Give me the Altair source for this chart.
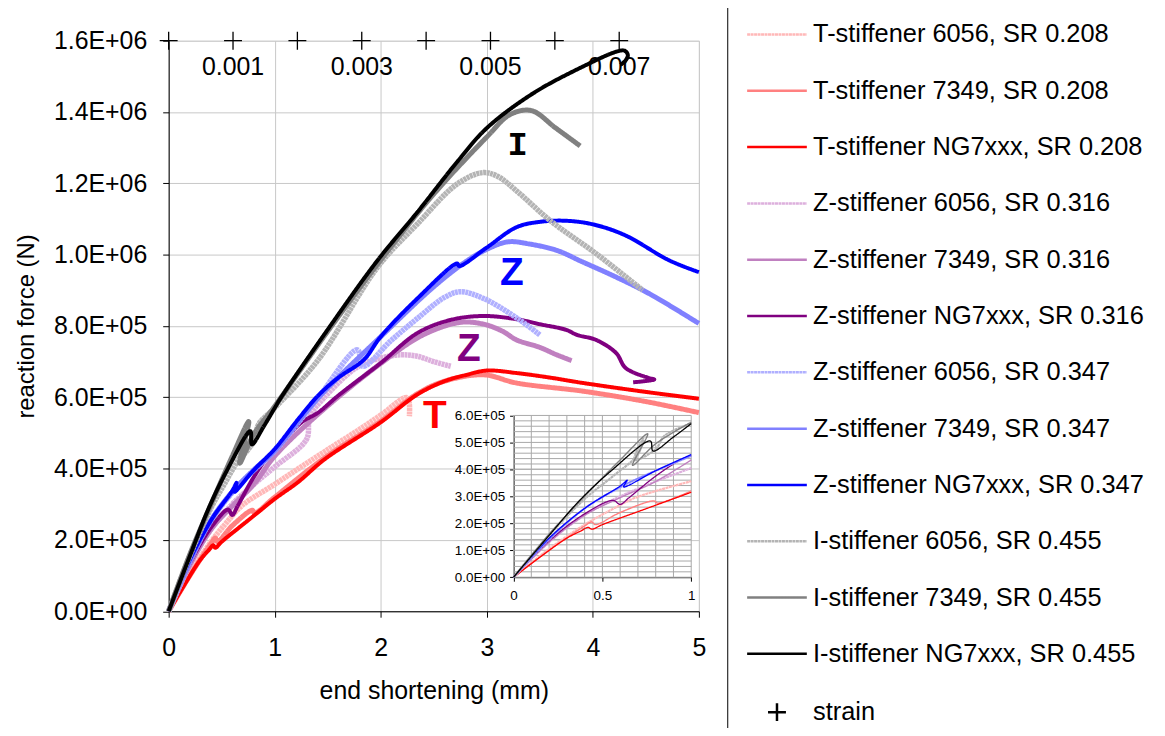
import altair as alt
import pandas as pd

# ---------------- series definitions ----------------
SERIES = [
    "T-stiffener 6056, SR 0.208", "T-stiffener 7349, SR 0.208", "T-stiffener NG7xxx, SR 0.208",
    "Z-stiffener 6056, SR 0.316", "Z-stiffener 7349, SR 0.316", "Z-stiffener NG7xxx, SR 0.316",
    "Z-stiffener 6056, SR 0.347", "Z-stiffener 7349, SR 0.347", "Z-stiffener NG7xxx, SR 0.347",
    "I-stiffener 6056, SR 0.455", "I-stiffener 7349, SR 0.455", "I-stiffener NG7xxx, SR 0.455",
    "strain",
]
COLORS = ["#FFB8B8", "#FF8080", "#FF0000",
          "#DDB0DD", "#C080C0", "#800080",
          "#B0B0FF", "#8080FF", "#0000FF",
          "#B4B4B4", "#808080", "#000000",
          "#000000"]
DOT = [3, 0.5]
SOLID = [1, 0]
DASHES = [DOT, SOLID, SOLID, DOT, SOLID, SOLID, DOT, SOLID, SOLID, DOT, SOLID, SOLID, SOLID]
LINE_SYM = "M-5,0L5,0"
PLUS_SYM = "M-1.5,0L1.5,0M0,-1.5L0,1.5"
SHAPES = [LINE_SYM] * 12 + [PLUS_SYM]

# ---------------- data: end shortening (mm) / reaction force (x 1E+05 N) ----------------
t6056_x = [0, 0.2, 0.4, 0.55, 0.69, 1.0, 1.25, 1.53, 1.8, 2.0, 2.25, 2.27]
t6056_y = [0, 1.05, 1.95, 2.5, 2.96, 3.56, 4.05, 4.59, 5.1, 5.5, 5.99, 5.47]

t7349_x = [0, 0.2, 0.4, 0.44, 0.46, 0.6, 0.79, 0.81, 1.0, 1.47, 2.0, 2.345, 2.6, 2.97, 3.28, 3.91, 4.5, 5.0]
t7349_y = [0, 1.0, 1.9, 2.05, 1.95, 2.4, 2.83, 2.75, 3.2, 4.3, 5.33, 6.1, 6.45, 6.63, 6.40, 6.17, 5.88, 5.57]

tng_x = [0, 0.15, 0.3, 0.38, 0.42, 0.44, 0.5, 0.75, 1.0, 1.22, 1.47, 2.0, 2.345, 2.6, 2.81, 3.0, 3.28, 3.6, 3.91, 4.5, 5.0]
tng_y = [0, 0.75, 1.45, 1.72, 1.85, 1.78, 1.95, 2.55, 3.15, 3.62, 4.26, 5.3, 6.08, 6.45, 6.63, 6.75, 6.68, 6.55, 6.40, 6.15, 5.96]

z316_6056_x = [0, 0.2, 0.4, 0.6, 0.8, 1.0, 1.3, 1.33, 1.47, 1.78, 2.0, 2.19, 2.345, 2.5, 2.66]
z316_6056_y = [0, 1.3, 2.3, 3.0, 3.55, 4.05, 4.82, 5.45, 6.0, 6.85, 7.1, 7.19, 7.15, 7.0, 6.87]

z316_7349_x = [0, 0.2, 0.4, 0.6, 0.8, 1.0, 1.4, 2.0, 2.4, 2.75, 2.97, 3.15, 3.28, 3.5, 3.66, 3.8]
z316_7349_y = [0, 1.3, 2.3, 2.95, 3.55, 4.35, 5.5, 6.95, 7.75, 8.1, 8.05, 7.85, 7.61, 7.4, 7.19, 7.03]

z316_ng_x = [0, 0.2, 0.4, 0.56, 0.6, 0.65, 0.8, 0.94, 1.0, 1.25, 1.41, 1.6, 2.0, 2.345, 2.66, 2.97,
             3.28, 3.5, 3.75, 3.85, 4.03, 4.22, 4.31, 4.53, 4.58, 4.38]
z316_ng_y = [0, 1.35, 2.35, 2.85, 2.7, 2.95, 3.75, 4.35, 4.5, 5.29, 5.57, 6.05, 6.96, 7.8, 8.17, 8.28,
             8.19, 8.05, 7.89, 7.75, 7.61, 7.24, 6.82, 6.54, 6.5, 6.42]

z347_6056_x = [0, 0.2, 0.4, 0.65, 0.8, 1.0, 1.4, 1.78, 1.83, 2.1, 2.345, 2.6, 2.75, 2.97, 3.29, 3.5]
z347_6056_y = [0, 1.4, 2.55, 3.5, 3.95, 4.5, 5.95, 7.33, 6.87, 7.6, 8.21, 8.8, 8.96, 8.77, 8.21, 7.75]

z347_7349_x = [0, 0.2, 0.4, 0.6, 0.8, 1.0, 1.4, 2.0, 2.5, 2.8, 3.0, 3.2, 3.4, 3.66, 3.9, 4.22, 4.53, 5.0]
z347_7349_y = [0, 1.4, 2.55, 3.35, 3.95, 4.5, 5.95, 7.7, 9.1, 9.8, 10.15, 10.36, 10.3, 10.12, 9.8, 9.37, 8.91, 8.07]

z347_ng_x = [0, 0.2, 0.41, 0.6, 0.64, 0.62, 0.8, 1.0, 1.22, 1.41, 1.6, 1.84, 2.0, 2.345, 2.72, 2.74,
             3.0, 3.28, 3.5, 3.75, 4.0, 4.3, 4.72, 5.0]
z347_ng_y = [0, 1.45, 2.6, 3.38, 3.6, 3.35, 3.95, 4.55, 5.38, 6.05, 6.55, 7.05, 7.7, 8.77, 9.75, 9.68,
             10.2, 10.77, 10.92, 10.95, 10.85, 10.55, 9.84, 9.51]

i6056_x = [0, 0.2, 0.4, 0.56, 0.7, 0.73, 0.68, 0.8, 0.85, 1.0, 1.41, 1.97, 2.345, 2.72, 2.96, 3.1, 3.28, 3.6, 4.03, 4.47]
i6056_y = [0, 1.55, 2.9, 3.75, 4.55, 5.15, 4.35, 4.75, 5.25, 5.7, 7.05, 9.65, 10.86, 11.98, 12.3, 12.2, 11.79, 10.95, 10.03, 9.0]

i7349_x = [0, 0.2, 0.4, 0.6, 0.755, 0.67, 0.8, 1.0, 1.5, 2.0, 2.5, 3.0, 3.22, 3.42, 3.65, 3.88]
i7349_y = [0, 1.6, 3.0, 4.35, 5.32, 4.15, 4.95, 5.75, 7.85, 9.85, 11.7, 13.3, 13.93, 14.04, 13.55, 13.05]

ing_x = [0, 0.2, 0.375, 0.55, 0.77, 0.785, 0.9, 1.0, 1.05, 1.5, 1.97, 2.345, 2.72, 3.0, 3.44, 3.91,
         4.22, 4.30, 4.33, 4.31, 4.26]
ing_y = [0, 1.55, 2.87, 3.95, 5.05, 4.68, 5.2, 5.7, 5.95, 7.9, 9.84, 11.19, 12.6, 13.55, 14.53, 15.28,
         15.69, 15.72, 15.6, 15.45, 15.32]

CURVES_X = [t6056_x, t7349_x, tng_x, z316_6056_x, z316_7349_x, z316_ng_x,
            z347_6056_x, z347_7349_x, z347_ng_x, i6056_x, i7349_x, ing_x]
CURVES_Y = [t6056_y, t7349_y, tng_y, z316_6056_y, z316_7349_y, z316_ng_y,
            z347_6056_y, z347_7349_y, z347_ng_y, i6056_y, i7349_y, ing_y]
MAIN_WIDTH = [5.5, 5, 4] * 4
INSET_WIDTH = [2.2, 1.4, 1.3] * 4

# strain markers (top)
STRAIN_MARKS = [0, 0.001, 0.002, 0.003, 0.004, 0.005, 0.006, 0.007]
STRAIN_LABEL_VALUES = [0.001, 0.003, 0.005, 0.007]
STRAIN_LABELS = ["0.001", "0.003", "0.005", "0.007"]
STRAIN_MAX = 0.008238
STRAIN_LEVEL = 1.6e6
STRAIN_LABEL_LEVEL = 1.527e6

# annotations
ANN_TEXT = ["I", "Z", "Z", "T"]
ANN_X = [3.29, 3.235, 2.83, 2.51]
ANN_Y = [13.07e5, 9.49e5, 7.35e5, 5.46e5]
ANN_COLOR = ["#000000", "#0000FF", "#800080", "#FF0000"]
ANN_FONT = ["Liberation Mono", "Liberation Sans", "Liberation Sans", "Liberation Sans"]
ANN_SIZE = [34, 39, 39, 39]

# inset grid
INSET_X_VALUES = [0, 0.1, 0.2, 0.3, 0.4, 0.5, 0.6, 0.7, 0.8, 0.9, 1.0]
INSET_Y_VALUES = [i * 20000 for i in range(31)]
INSET_X_TICKS = [0, 0.5, 1.0]
INSET_Y_TICKS = [i * 100000 for i in range(7)]

# ---------------- tables ----------------
rows = []
for name, xs, ys in zip(SERIES[:12], CURVES_X, CURVES_Y):
    for i, (xv, yv) in enumerate(zip(xs, ys)):
        rows.append({"series": name, "i": i, "x": xv, "y": yv * 1e5})
df = pd.DataFrame(rows)

strain_df = pd.DataFrame({"strain": STRAIN_MARKS, "y": [STRAIN_LEVEL] * len(STRAIN_MARKS),
                          "series": ["strain"] * len(STRAIN_MARKS)})
strain_lbl_df = pd.DataFrame({"strain": STRAIN_LABEL_VALUES, "label": STRAIN_LABELS,
                              "y": [STRAIN_LABEL_LEVEL] * len(STRAIN_LABELS)})
ann_df = pd.DataFrame({"k": list(range(len(ANN_TEXT))), "text": ANN_TEXT, "x": ANN_X, "y": ANN_Y})
vgrid_df = pd.DataFrame({"v": INSET_X_VALUES, "lo": 0, "hi": 600000})
hgrid_df = pd.DataFrame({"h": INSET_Y_VALUES, "lo": 0, "hi": 1.0})

# ---------------- encodings ----------------
FONT = "Liberation Sans"
LEG = dict(title=None, orient="none", legendX=561.5, legendY=-35, direction="vertical",
           padding=16, strokeColor="black", fillColor="white",
           labelFont=FONT, labelFontSize=25.5, labelColor="black", labelLimit=0,
           symbolSize=144, symbolStrokeWidth=2.5, symbolOffset=21.25, labelOffset=23.5,
           rowPadding=29.6)

def color_enc(leg=True):
    return alt.Color("series:N", scale=alt.Scale(domain=SERIES, range=COLORS),
                     legend=alt.Legend(**LEG) if leg else None)

def dash_enc(leg=True):
    return alt.StrokeDash("series:N", scale=alt.Scale(domain=SERIES, range=DASHES),
                          legend=alt.Legend(**LEG) if leg else None)

shape_enc = alt.Shape("series:N", scale=alt.Scale(domain=SERIES, range=SHAPES), legend=alt.Legend(**LEG))

EXP = "replace(format(datum.value, '.1e'), 'e+', 'E+0')"

x_main_scale = alt.Scale(domain=[0, 5], nice=False, zero=False)
y_main_scale = alt.Scale(domain=[0, 1.6e6], nice=False, zero=False)
x_main_axis = alt.Axis(orient="bottom", values=[0, 1, 2, 3, 4, 5], title="end shortening (mm)", grid=True,
                       gridColor="#C8C8C8", domainColor="black", tickColor="black", tickSize=6,
                       labelFont=FONT, labelFontSize=25, labelColor="black", labelPadding=19,
                       labelFlush=False, titleFont=FONT, titleFontSize=25, titleFontWeight="normal",
                       titleColor="black", titlePadding=18)
y_main_axis = alt.Axis(orient="left", values=[i * 200000 for i in range(9)], labelExpr=EXP,
                       title="reaction force (N)",
                       grid=True, gridColor="#C8C8C8", domainColor="black", tickColor="black", tickSize=6,
                       labelFont=FONT, labelFontSize=25, labelColor="black", labelPadding=16,
                       titleFont=FONT, titleFontSize=24, titleFontWeight="normal", titleColor="black",
                       titlePadding=15)

main_layers = []
for k, name in enumerate(SERIES[:12]):
    main_layers.append(
        alt.Chart(df).transform_filter(alt.datum.series == name)
        .mark_line(strokeWidth=MAIN_WIDTH[k], strokeCap="butt", strokeJoin="round",
                   interpolate="catmull-rom")
        .encode(x=alt.X("x:Q", scale=x_main_scale, axis=x_main_axis),
                y=alt.Y("y:Q", scale=y_main_scale, axis=y_main_axis),
                color=color_enc(), strokeDash=dash_enc(), order="i:Q")
    )
for k in range(len(ANN_TEXT)):
    main_layers.append(
        alt.Chart(ann_df).transform_filter(alt.datum.k == k)
        .mark_text(color=ANN_COLOR[k], font=ANN_FONT[k], fontSize=ANN_SIZE[k], fontWeight="bold")
        .encode(x=alt.X("x:Q", scale=x_main_scale, axis=x_main_axis),
                y=alt.Y("y:Q", scale=y_main_scale, axis=y_main_axis),
                text="text:N")
    )
main = alt.layer(*main_layers)

# ---------------- strain markers ----------------
sx = alt.Scale(domain=[0, STRAIN_MAX], nice=False, zero=False)
sy = alt.Scale(domain=[0, 1.6e6], nice=False, zero=False)
plus = alt.Chart(strain_df).mark_point(filled=False, size=144, strokeWidth=1.3, opacity=1).encode(
    x=alt.X("strain:Q", scale=sx, axis=None),
    y=alt.Y("y:Q", scale=sy, axis=None),
    color=color_enc(), shape=shape_enc)
plus_lbl = alt.Chart(strain_lbl_df).mark_text(font=FONT, fontSize=25, color="black").encode(
    x=alt.X("strain:Q", scale=sx, axis=None),
    y=alt.Y("y:Q", scale=sy, axis=None),
    text="label:N")
strain_grp = alt.layer(plus, plus_lbl)

# ---------------- inset ----------------
ix = alt.Scale(domain=[0, 1], range=[346.7, 525.3], nice=False, zero=False)
iy = alt.Scale(domain=[0, 600000], range=[539.3, 376.7], nice=False, zero=False)
ix_axis = alt.Axis(orient="bottom", offset=-34.2, values=INSET_X_TICKS, title=None, grid=False,
                   domainColor="black", tickColor="black", tickSize=4,
                   labelExpr="datum.value == 0 ? '0' : datum.value == 0.5 ? '0.5' : '1'",
                   labelFont=FONT, labelFontSize=13.5, labelColor="black", labelPadding=7,
                   labelFlush=False, labelOverlap=False)
iy_axis = alt.Axis(orient="left", offset=-346.7, values=INSET_Y_TICKS, title=None, grid=False,
                   domainColor="black", tickColor="black", tickSize=4,
                   labelExpr=EXP,
                   labelFont=FONT, labelFontSize=13.5, labelColor="black", labelPadding=5,
                   labelOverlap=False)
inset_layers = [
    alt.Chart(vgrid_df).mark_rule(color="#A8A8A8", strokeWidth=1).encode(
        x=alt.X("v:Q", scale=ix, axis=ix_axis),
        y=alt.Y("lo:Q", scale=iy, axis=iy_axis), y2="hi:Q"),
    alt.Chart(hgrid_df).mark_rule(color="#A8A8A8", strokeWidth=1).encode(
        y=alt.Y("h:Q", scale=iy, axis=iy_axis),
        x=alt.X("lo:Q", scale=ix, axis=ix_axis), x2="hi:Q"),
]
for k, name in enumerate(SERIES[:12]):
    inset_layers.append(
        alt.Chart(df).transform_filter(alt.datum.series == name).transform_filter(alt.datum.x <= 1.0)
        .mark_line(strokeWidth=INSET_WIDTH[k], strokeCap="butt", strokeJoin="round",
                   interpolate="catmull-rom")
        .encode(x=alt.X("x:Q", scale=ix, axis=ix_axis),
                y=alt.Y("y:Q", scale=iy, axis=iy_axis),
                color=color_enc(False), strokeDash=dash_enc(False), order="i:Q")
    )
inset = alt.layer(*inset_layers)

chart = (
    alt.layer(main, strain_grp, inset)
    .resolve_scale(x="independent", y="independent")
    .properties(width=533, height=573.5,
                autosize=alt.AutoSizeParams(type="none"),
                padding={"left": 161.5, "top": 31, "right": 460.5, "bottom": 115})
    .configure_view(stroke=None)
    .configure(background="white")
)

chart.save("out.html", embed_options={"renderer": "svg", "actions": False})
